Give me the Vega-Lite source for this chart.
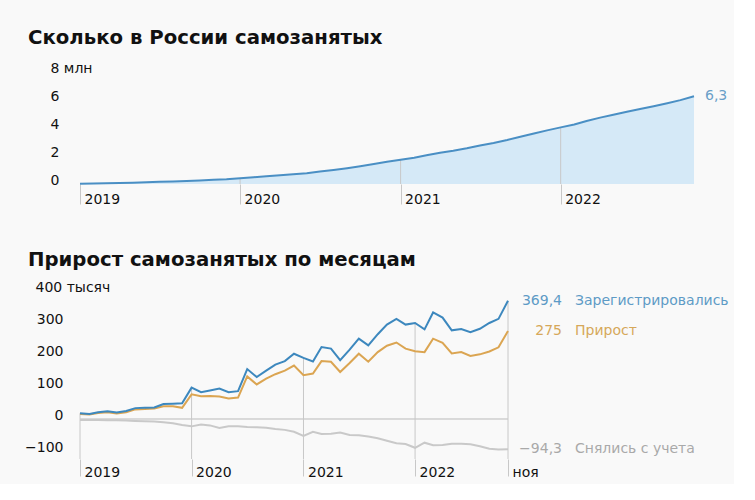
{
  "$schema": "https://vega.github.io/schema/vega-lite/v6.json",
  "background": "#f9f9f9",
  "padding": {"left": 24, "top": 28, "right": 5, "bottom": 5},
  "spacing": 44,
  "config": {
    "locale": {"number": {"decimal": ",", "thousands": " ", "grouping": [3], "currency": ["", ""], "minus": "−"}},
    "view": {"stroke": null},
    "font": "DejaVu Sans",
    "axis": {"labelFont": "DejaVu Sans", "labelFontSize": 14, "labelColor": "#222", "domain": false, "grid": false, "title": null, "labelOverlap": false, "tickCount": 20},
    "title": {"font": "DejaVu Sans", "fontSize": 19.7, "fontWeight": "bold", "color": "#111", "anchor": "start", "frame": "group"}
  },
  "datasets": {
    "m": [
      {"date": "2019/01/01", "registered": 18, "net": 16, "removed": -3, "total": 0.018},
      {"date": "2019/02/01", "registered": 16, "net": 14, "removed": -3, "total": 0.034},
      {"date": "2019/03/01", "registered": 21, "net": 19, "removed": -3, "total": 0.055},
      {"date": "2019/04/01", "registered": 24, "net": 21, "removed": -4, "total": 0.078},
      {"date": "2019/05/01", "registered": 20, "net": 17, "removed": -4, "total": 0.097},
      {"date": "2019/06/01", "registered": 25, "net": 21, "removed": -5, "total": 0.121},
      {"date": "2019/07/01", "registered": 34, "net": 30, "removed": -6, "total": 0.152},
      {"date": "2019/08/01", "registered": 35, "net": 31, "removed": -7, "total": 0.184},
      {"date": "2019/09/01", "registered": 36, "net": 33, "removed": -8, "total": 0.217},
      {"date": "2019/10/01", "registered": 47, "net": 40, "removed": -10, "total": 0.258},
      {"date": "2019/11/01", "registered": 48, "net": 40, "removed": -13, "total": 0.299},
      {"date": "2019/12/01", "registered": 49, "net": 35, "removed": -19, "total": 0.334},
      {"date": "2020/01/01", "registered": 98, "net": 77, "removed": -23, "total": 0.412},
      {"date": "2020/02/01", "registered": 84, "net": 71, "removed": -17, "total": 0.484},
      {"date": "2020/03/01", "registered": 89, "net": 72, "removed": -20, "total": 0.557},
      {"date": "2020/04/01", "registered": 95, "net": 70, "removed": -28, "total": 0.628},
      {"date": "2020/05/01", "registered": 84, "net": 64, "removed": -23, "total": 0.694},
      {"date": "2020/06/01", "registered": 87, "net": 67, "removed": -23, "total": 0.763},
      {"date": "2020/07/01", "registered": 156, "net": 133, "removed": -25, "total": 0.897},
      {"date": "2020/08/01", "registered": 131, "net": 108, "removed": -26, "total": 1.006},
      {"date": "2020/09/01", "registered": 151, "net": 126, "removed": -27, "total": 1.132},
      {"date": "2020/10/01", "registered": 170, "net": 140, "removed": -31, "total": 1.272},
      {"date": "2020/11/01", "registered": 181, "net": 151, "removed": -34, "total": 1.423},
      {"date": "2020/12/01", "registered": 204, "net": 167, "removed": -40, "total": 1.59},
      {"date": "2021/01/01", "registered": 191, "net": 137, "removed": -53, "total": 1.727},
      {"date": "2021/02/01", "registered": 180, "net": 142, "removed": -40, "total": 1.869},
      {"date": "2021/03/01", "registered": 225, "net": 181, "removed": -47, "total": 2.05},
      {"date": "2021/04/01", "registered": 220, "net": 179, "removed": -46, "total": 2.229},
      {"date": "2021/05/01", "registered": 184, "net": 147, "removed": -42, "total": 2.376},
      {"date": "2021/06/01", "registered": 217, "net": 175, "removed": -50, "total": 2.551},
      {"date": "2021/07/01", "registered": 251, "net": 204, "removed": -51, "total": 2.755},
      {"date": "2021/08/01", "registered": 230, "net": 179, "removed": -55, "total": 2.934},
      {"date": "2021/09/01", "registered": 265, "net": 209, "removed": -60, "total": 3.143},
      {"date": "2021/10/01", "registered": 295, "net": 229, "removed": -68, "total": 3.372},
      {"date": "2021/11/01", "registered": 313, "net": 239, "removed": -76, "total": 3.611},
      {"date": "2021/12/01", "registered": 295, "net": 220, "removed": -78, "total": 3.831},
      {"date": "2022/01/01", "registered": 300, "net": 212, "removed": -90, "total": 4.043},
      {"date": "2022/02/01", "registered": 280, "net": 209, "removed": -74, "total": 4.252},
      {"date": "2022/03/01", "registered": 333, "net": 251, "removed": -82, "total": 4.503},
      {"date": "2022/04/01", "registered": 317, "net": 238, "removed": -81, "total": 4.741},
      {"date": "2022/05/01", "registered": 277, "net": 205, "removed": -77, "total": 4.946},
      {"date": "2022/06/01", "registered": 281, "net": 209, "removed": -77, "total": 5.155},
      {"date": "2022/07/01", "registered": 271, "net": 197, "removed": -79, "total": 5.352},
      {"date": "2022/08/01", "registered": 282, "net": 202, "removed": -85, "total": 5.554},
      {"date": "2022/09/01", "registered": 300, "net": 211, "removed": -93, "total": 5.765},
      {"date": "2022/10/01", "registered": 313, "net": 224, "removed": -95, "total": 5.989},
      {"date": "2022/11/01", "registered": 369.4, "net": 275, "removed": -94.3, "total": 6.27}
    ],
    "lab": [
      {"date": "2022/11/01", "value": 369.4, "series": "Зарегистрировались"},
      {"date": "2022/11/01", "value": 275, "series": "Прирост"},
      {"date": "2022/11/01", "value": -94.3, "series": "Снялись с учета"}
    ]
  },
  "vconcat": [
    {
      "title": {"text": "Сколько в России самозанятых", "dx": -52, "offset": 13},
      "width": 614,
      "height": 112,
      "data": {"name": "m"},
      "encoding": {
        "x": {
          "field": "date", "type": "temporal",
          "scale": {"domain": [{"year": 2019, "month": 1, "date": 1}, {"year": 2022, "month": 11, "date": 1}]},
          "axis": {
            "values": [{"year": 2019, "month": 1, "date": 1}, {"year": 2020, "month": 1, "date": 1}, {"year": 2021, "month": 1, "date": 1}, {"year": 2022, "month": 1, "date": 1}],
            "format": "%Y", "tickSize": 20, "tickColor": "#c8c8c8", "labelAlign": "left", "labelBaseline": "middle",
            "labelPadding": -5, "labelOffset": 4, "labelColor": "#111", "labelFlush": false, "labelOverlap": false, "tickCount": 20
          }
        }
      },
      "layer": [
        {
          "mark": {"type": "area", "color": "#d5e9f7", "opacity": 1},
          "encoding": {
            "y": {
              "field": "total", "type": "quantitative",
              "scale": {"domain": [0, 8], "nice": false},
              "axis": {
                "values": [0, 2, 4, 6, 8], "tickCount": 20, "format": "d",
                "labelExpr": "datum.value === 8 ? '8 млн' : datum.label",
                "labelAlign": "left", "labelPadding": 30, "ticks": false, "tickSize": 0,
                "labelBaseline": "alphabetic", "labelColor": "#111", "labelOverlap": false, "labelBound": false
              }
            }
          }
        },
        {
          "transform": [{"filter": "month(datum.date) === 0 && year(datum.date) > 2019"}],
          "mark": {"type": "rule", "color": "#c8c8c8", "strokeWidth": 1},
          "encoding": {
            "y": {"field": "total", "type": "quantitative"},
            "y2": {"datum": 0}
          }
        },
        {
          "mark": {"type": "line", "color": "#4a8fc4", "strokeWidth": 2},
          "encoding": {"y": {"field": "total", "type": "quantitative"}}
        },
        {
          "transform": [{"filter": "year(datum.date) === 2022 && month(datum.date) === 10"}],
          "mark": {"type": "text", "align": "left", "dx": 11, "fontSize": 14, "color": "#6a9fc8", "baseline": "middle"},
          "encoding": {
            "y": {"field": "total", "type": "quantitative"},
            "text": {"field": "total", "type": "quantitative", "format": ".1f"}
          }
        }
      ]
    },
    {
      "title": {"text": "Прирост самозанятых по месяцам", "dx": -52, "offset": 10},
      "width": 428,
      "height": 168,
      "layer": [
        {
          "data": {"name": "m"},
          "mark": {"type": "rule", "color": "#d9d9d9", "strokeWidth": 1},
          "encoding": {
            "y": {"datum": 0, "type": "quantitative",
              "scale": {"domain": [-125, 400], "nice": false},
              "axis": {
                "values": [-100, 0, 100, 200, 300, 400], "tickCount": 20, "format": "d",
                "labelExpr": "datum.value === 400 ? '400 тысяч' : datum.label",
                "labelAlign": {"condition": {"test": "datum.value === 400", "value": "left"}, "value": "right"},
                "labelPadding": {"condition": {"test": "datum.value === 400", "value": 45}, "value": 17},
                "ticks": false, "tickSize": 0, "labelBaseline": "alphabetic", "labelColor": "#111",
                "labelOverlap": false, "labelBound": false
              }
            }
          }
        },
        {
          "data": {"name": "m"},
          "transform": [{"filter": "month(datum.date) === 0 || (year(datum.date) === 2022 && month(datum.date) === 10)"}],
          "mark": {"type": "rule", "color": "#c8c8c8", "strokeWidth": 1},
          "encoding": {
            "x": {
              "field": "date", "type": "temporal",
              "scale": {"domain": [{"year": 2019, "month": 1, "date": 1}, {"year": 2022, "month": 11, "date": 1}]},
              "axis": {
                "values": [{"year": 2019, "month": 1, "date": 1}, {"year": 2020, "month": 1, "date": 1}, {"year": 2021, "month": 1, "date": 1}, {"year": 2022, "month": 1, "date": 1}, {"year": 2022, "month": 11, "date": 1}],
                "labelExpr": "month(datum.value) === 10 ? 'ноя' : timeFormat(datum.value, '%Y')",
                "tickSize": 17, "tickColor": "#c8c8c8", "labelAlign": "left", "labelBaseline": "middle",
                "labelPadding": -4, "labelOffset": 4, "labelColor": "#111", "labelFlush": false, "labelOverlap": false, "tickCount": 20
              }
            },
            "y": {"field": "registered", "type": "quantitative"},
            "y2": {"datum": -125}
          }
        },
        {
          "data": {"name": "m"},
          "mark": {"type": "line", "color": "#c9c9c9", "strokeWidth": 2},
          "encoding": {
            "x": {"field": "date", "type": "temporal"},
            "y": {"field": "removed", "type": "quantitative"}
          }
        },
        {
          "data": {"name": "m"},
          "mark": {"type": "line", "color": "#dba552", "strokeWidth": 2},
          "encoding": {
            "x": {"field": "date", "type": "temporal"},
            "y": {"field": "net", "type": "quantitative"}
          }
        },
        {
          "data": {"name": "m"},
          "mark": {"type": "line", "color": "#3d88be", "strokeWidth": 2},
          "encoding": {
            "x": {"field": "date", "type": "temporal"},
            "y": {"field": "registered", "type": "quantitative"}
          }
        },
        {
          "data": {"name": "lab"},
          "mark": {"type": "text", "align": "right", "dx": 54, "fontSize": 14, "baseline": "middle"},
          "encoding": {
            "x": {"field": "date", "type": "temporal"},
            "y": {"field": "value", "type": "quantitative"},
            "text": {"field": "value", "type": "quantitative", "format": ".1~f"},
            "color": {"field": "series", "type": "nominal", "legend": null,
              "scale": {"domain": ["Зарегистрировались", "Прирост", "Снялись с учета"], "range": ["#5e9bc6", "#d6a85a", "#a9a9a9"]}}
          }
        },
        {
          "data": {"name": "lab"},
          "mark": {"type": "text", "align": "left", "dx": 67, "fontSize": 14, "baseline": "middle"},
          "encoding": {
            "x": {"field": "date", "type": "temporal"},
            "y": {"field": "value", "type": "quantitative"},
            "text": {"field": "series", "type": "nominal"},
            "color": {"field": "series", "type": "nominal", "legend": null}
          }
        }
      ]
    }
  ]
}
